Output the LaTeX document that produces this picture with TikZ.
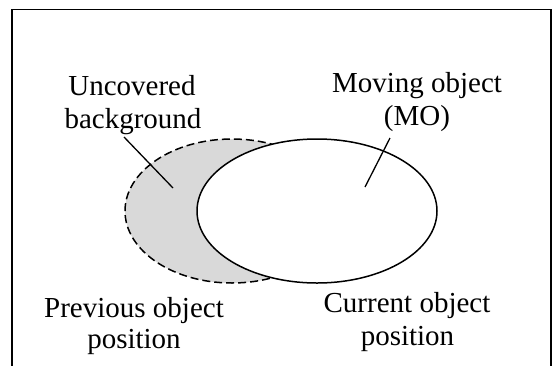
\documentclass[tikz,border=0pt]{standalone}
\usepackage{fontspec}
\setmainfont{Liberation Serif}
\begin{document}
\begin{tikzpicture}[x=1pt,y=-1pt,
  lbl/.style={anchor=base,inner sep=0pt,font=\fontsize{29}{33}\selectfont},
  frameline/.style={line width=1.5pt},
  prevobj/.style={draw,line width=1.5pt,dash pattern=on 8pt off 4pt,fill=black!15},
  curobj/.style={draw,line width=1.5pt,fill=white},
  pointer/.style={line width=1.3pt}]
\useasboundingbox (0,0) rectangle (552,365);
\clip (0,0) rectangle (552,365);
% frame
\coordinate (fbl) at (11.8,370);
\coordinate (ftl) at (11.8,9.5);
\coordinate (ftr) at (550.8,9.5);
\coordinate (fbr) at (550.8,370);
\draw[frameline] (fbl) -- (ftl) -- (ftr) -- (fbr);
% objects
\draw[prevobj] (232,211) ellipse [x radius=107pt, y radius=72pt];
\draw[curobj] (317,211) ellipse [x radius=120pt, y radius=72pt];
% labels
\node[lbl] (unc1) at (132,95) {Uncovered};
\node[lbl] (unc2) at (133,128) {background};
\node[lbl] (mo1) at (417,92) {Moving object};
\node[lbl] (mo2) at (417,125) {(MO)};
\node[lbl] (prev1) at (134,317) {Previous object};
\node[lbl] (prev2) at (134,348) {position};
\node[lbl] (cur1) at (407,312) {Current object};
\node[lbl] (cur2) at (407.5,345) {position};
% pointers
\coordinate (ubstart) at (124,137);
\coordinate (ubend) at (173,188);
\coordinate (mostart) at (390,138);
\coordinate (moend) at (365,187);
\draw[pointer] (ubstart) -- (ubend);
\draw[pointer] (mostart) -- (moend);
\end{tikzpicture}
\end{document}
